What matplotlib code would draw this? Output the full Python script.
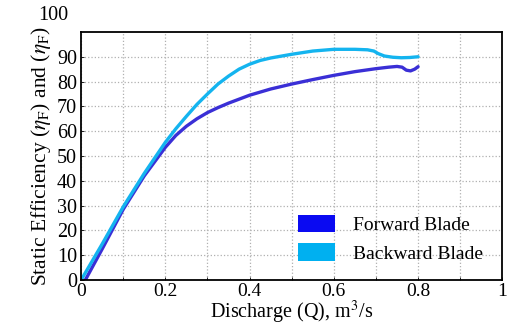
import matplotlib
matplotlib.use("Agg")
import matplotlib.pyplot as plt
from matplotlib.patches import Patch

plt.rcParams['font.family'] = ['Liberation Serif', 'DejaVu Serif']
plt.rcParams['mathtext.fontset'] = 'stix'

# Data
q_backward = [0, 0.05, 0.1, 0.15, 0.2, 0.225, 0.25, 0.275, 0.3, 0.325, 0.35, 0.375, 0.4, 0.425, 0.45,
              0.5, 0.55, 0.6, 0.65, 0.68, 0.695, 0.705, 0.72, 0.74, 0.76, 0.78, 0.8]
eta_backward = [0, 14.5, 29.5, 43, 55.5, 61, 66, 70.8, 75, 79, 82.2, 85, 87, 88.5, 89.5,
                91, 92.3, 93, 93, 92.8, 92.3, 91.3, 90.3, 89.8, 89.6, 89.7, 90]
q_forward = [0.01, 0.05, 0.1, 0.15, 0.2, 0.225, 0.25, 0.275, 0.3, 0.325, 0.35, 0.4, 0.45, 0.5,
             0.55, 0.6, 0.65, 0.7, 0.73, 0.75, 0.762, 0.772, 0.782, 0.792, 0.8]
eta_forward = [0, 12.5, 28.5, 42, 53.5, 58.3, 62, 65, 67.5, 69.5, 71.3, 74.5, 77, 79,
               80.8, 82.5, 84, 85.2, 85.8, 86.1, 85.8, 84.6, 84.3, 85.0, 86]
x_ticks = [0, 0.2, 0.4, 0.6, 0.8, 1]
x_ticklabels = ['0', '0.2', '0.4', '0.6', '0.8', '1']
y_ticks = [0, 10, 20, 30, 40, 50, 60, 70, 80, 90]

fig = plt.figure(figsize=(5.1, 3.26), dpi=100)
ax = fig.add_axes([0.159, 0.141, 0.826, 0.761])

ax.plot(q_forward, eta_forward, color='#3a2fd6', lw=2.4, solid_capstyle='round', solid_joinstyle='round')
ax.plot(q_backward, eta_backward, color='#14b4ef', lw=2.4, solid_capstyle='round', solid_joinstyle='round')

ax.set_xlim(0, 1)
ax.set_ylim(0, 100)
ax.set_xticks(x_ticks)
ax.set_xticklabels(x_ticklabels, fontsize=14)
ax.set_yticks(y_ticks)
ax.set_yticklabels([str(v) for v in y_ticks], fontsize=14.5)
ax.set_xticks([i / 10 for i in range(11)], minor=True)
ax.tick_params(which='both', direction='in', length=2, width=0.6, pad=3)
ax.tick_params(axis='x', pad=2)
ax.grid(True, which='both', color='#b0b0b0', linestyle=':', linewidth=0.9)
for s in ax.spines.values():
    s.set_linewidth(1.3)
    s.set_color('black')

ax.text(-0.065, 1.065, '100', transform=ax.transAxes, fontsize=14.5, ha='center', va='center')

ax.set_xlabel('Discharge (Q), m$^3$/s', fontsize=14.5, labelpad=-1)
ax.set_ylabel(r'Static Efficiency ($\eta_\mathrm{F}$) and ($\eta_\mathrm{F}$)', fontsize=15.5, labelpad=3)

handles = [Patch(facecolor='#0a0af2', edgecolor='none'), Patch(facecolor='#00b0f0', edgecolor='none')]
ax.legend(handles, ['Forward Blade', 'Backward Blade'], loc='lower right', frameon=False,
          fontsize=14, bbox_to_anchor=(0.995, 0.0), handlelength=1.9, handleheight=1.0,
          labelspacing=0.45, handletextpad=0.9)

fig.savefig('out.png', dpi=100)
